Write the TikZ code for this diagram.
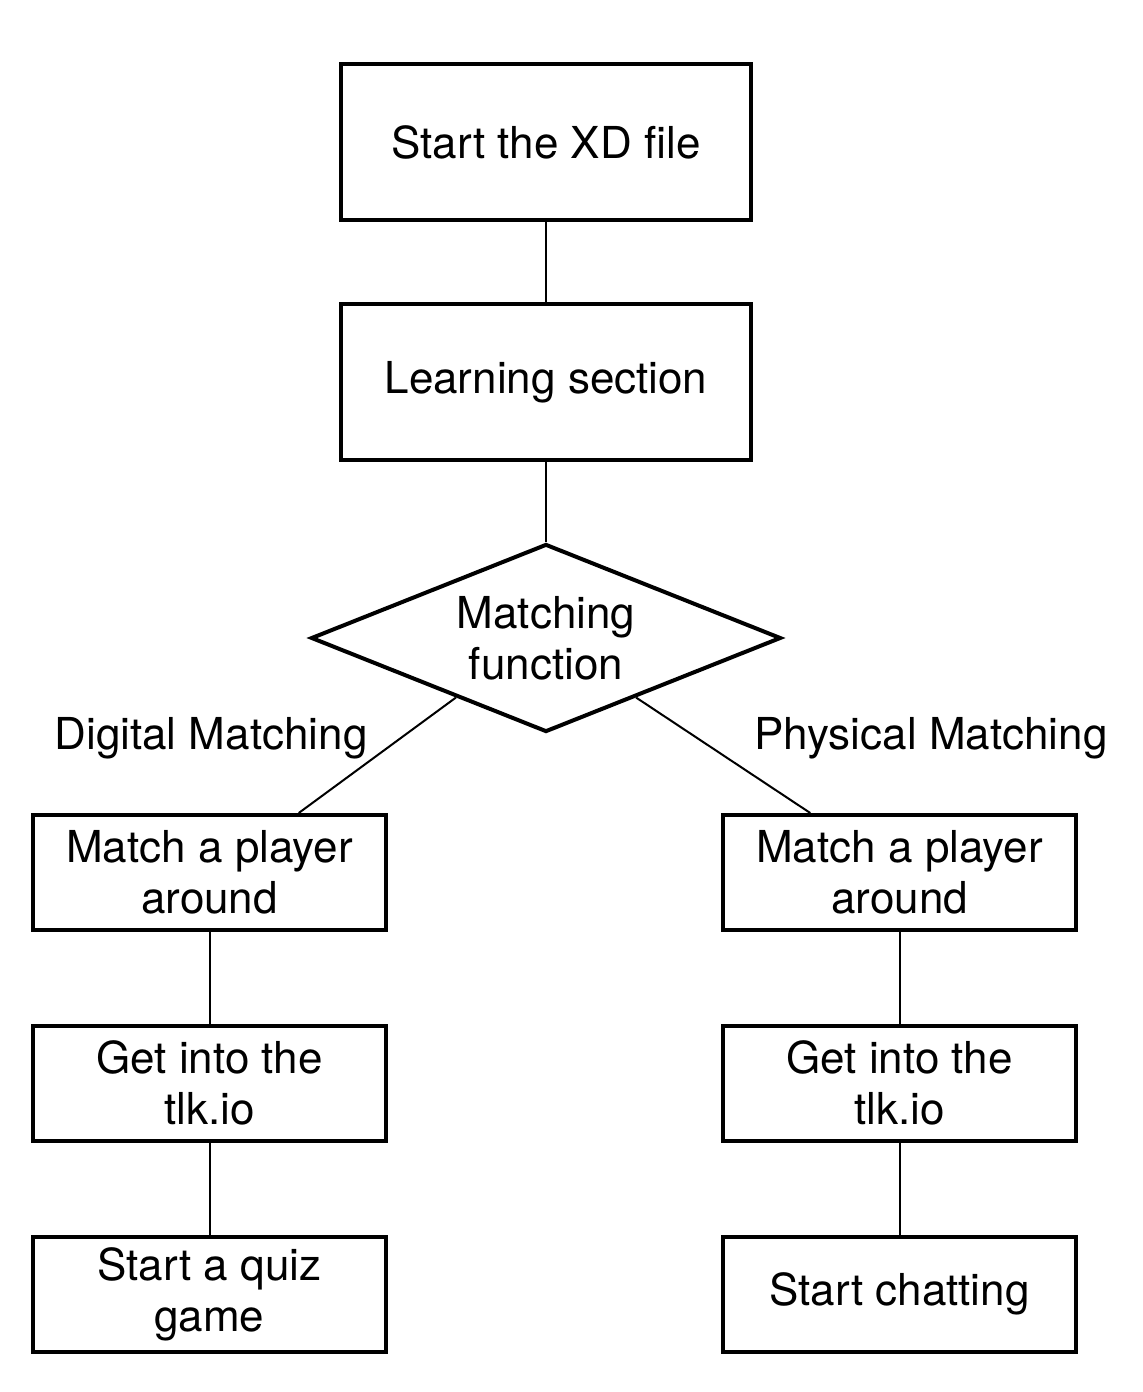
\documentclass[tikz,border=0pt]{standalone}
\usepackage{fontspec}
\setmainfont{TeX Gyre Heros}
\usetikzlibrary{shapes.geometric,calc}
\tikzset{
    every node/.style={font=\fontsize{22}{25.5}\selectfont},
    stepbox/.style={draw,rectangle,line width=2pt,minimum width=205pt,minimum height=78pt,inner sep=0pt},
    smallbox/.style={draw,rectangle,line width=2pt,minimum width=176.5pt,minimum height=57.5pt,inner sep=0pt,align=center},
    decision/.style={draw,diamond,line width=2pt,aspect=2.5,minimum width=235pt,minimum height=94pt,inner sep=0pt,align=center},
    link/.style={line width=1pt}
}

\begin{document}
\begin{tikzpicture}[x=0.5pt,y=-0.5pt]
  \useasboundingbox (0,0) rectangle (1142,1392);

  \node[stepbox] (start) at (546,142) {Start the XD file};
  \node[stepbox] (learn) at (546,382) {Learning section};
  \node[decision] (match) at (546,638) {Matching\\function};

  \node[smallbox] (dplayer) at (209.5,872.5) {Match a player\\around};
  \node[smallbox] (dtlk) at (209.5,1083) {Get into the\\tlk.io};
  \node[smallbox] (quiz) at (209.5,1294) {Start a quiz\\game};
  \node[smallbox] (pplayer) at (899.5,872.5) {Match a player\\around};
  \node[smallbox] (ptlk) at (899.5,1083) {Get into the\\tlk.io};
  \node[smallbox] (chat) at (899.5,1294) {Start chatting};

  \node (dlabel) at (211,738) {Digital Matching};
  \node (plabel) at (931,738) {Physical Matching};

  % connectors
  \draw[link] (start) -- (learn);
  \draw[link] (learn) -- (match);
  \draw[link] ($(match.west)!0.62!(match.south)$) -- ($(dplayer.north west)!0.75!(dplayer.north east)$);
  \draw[link] ($(match.east)!0.62!(match.south)$) -- ($(pplayer.north west)!0.25!(pplayer.north east)$);
  \draw[link] (dplayer) -- (dtlk);
  \draw[link] (dtlk) -- (quiz);
  \draw[link] (pplayer) -- (ptlk);
  \draw[link] (ptlk) -- (chat);
\end{tikzpicture}
\end{document}
